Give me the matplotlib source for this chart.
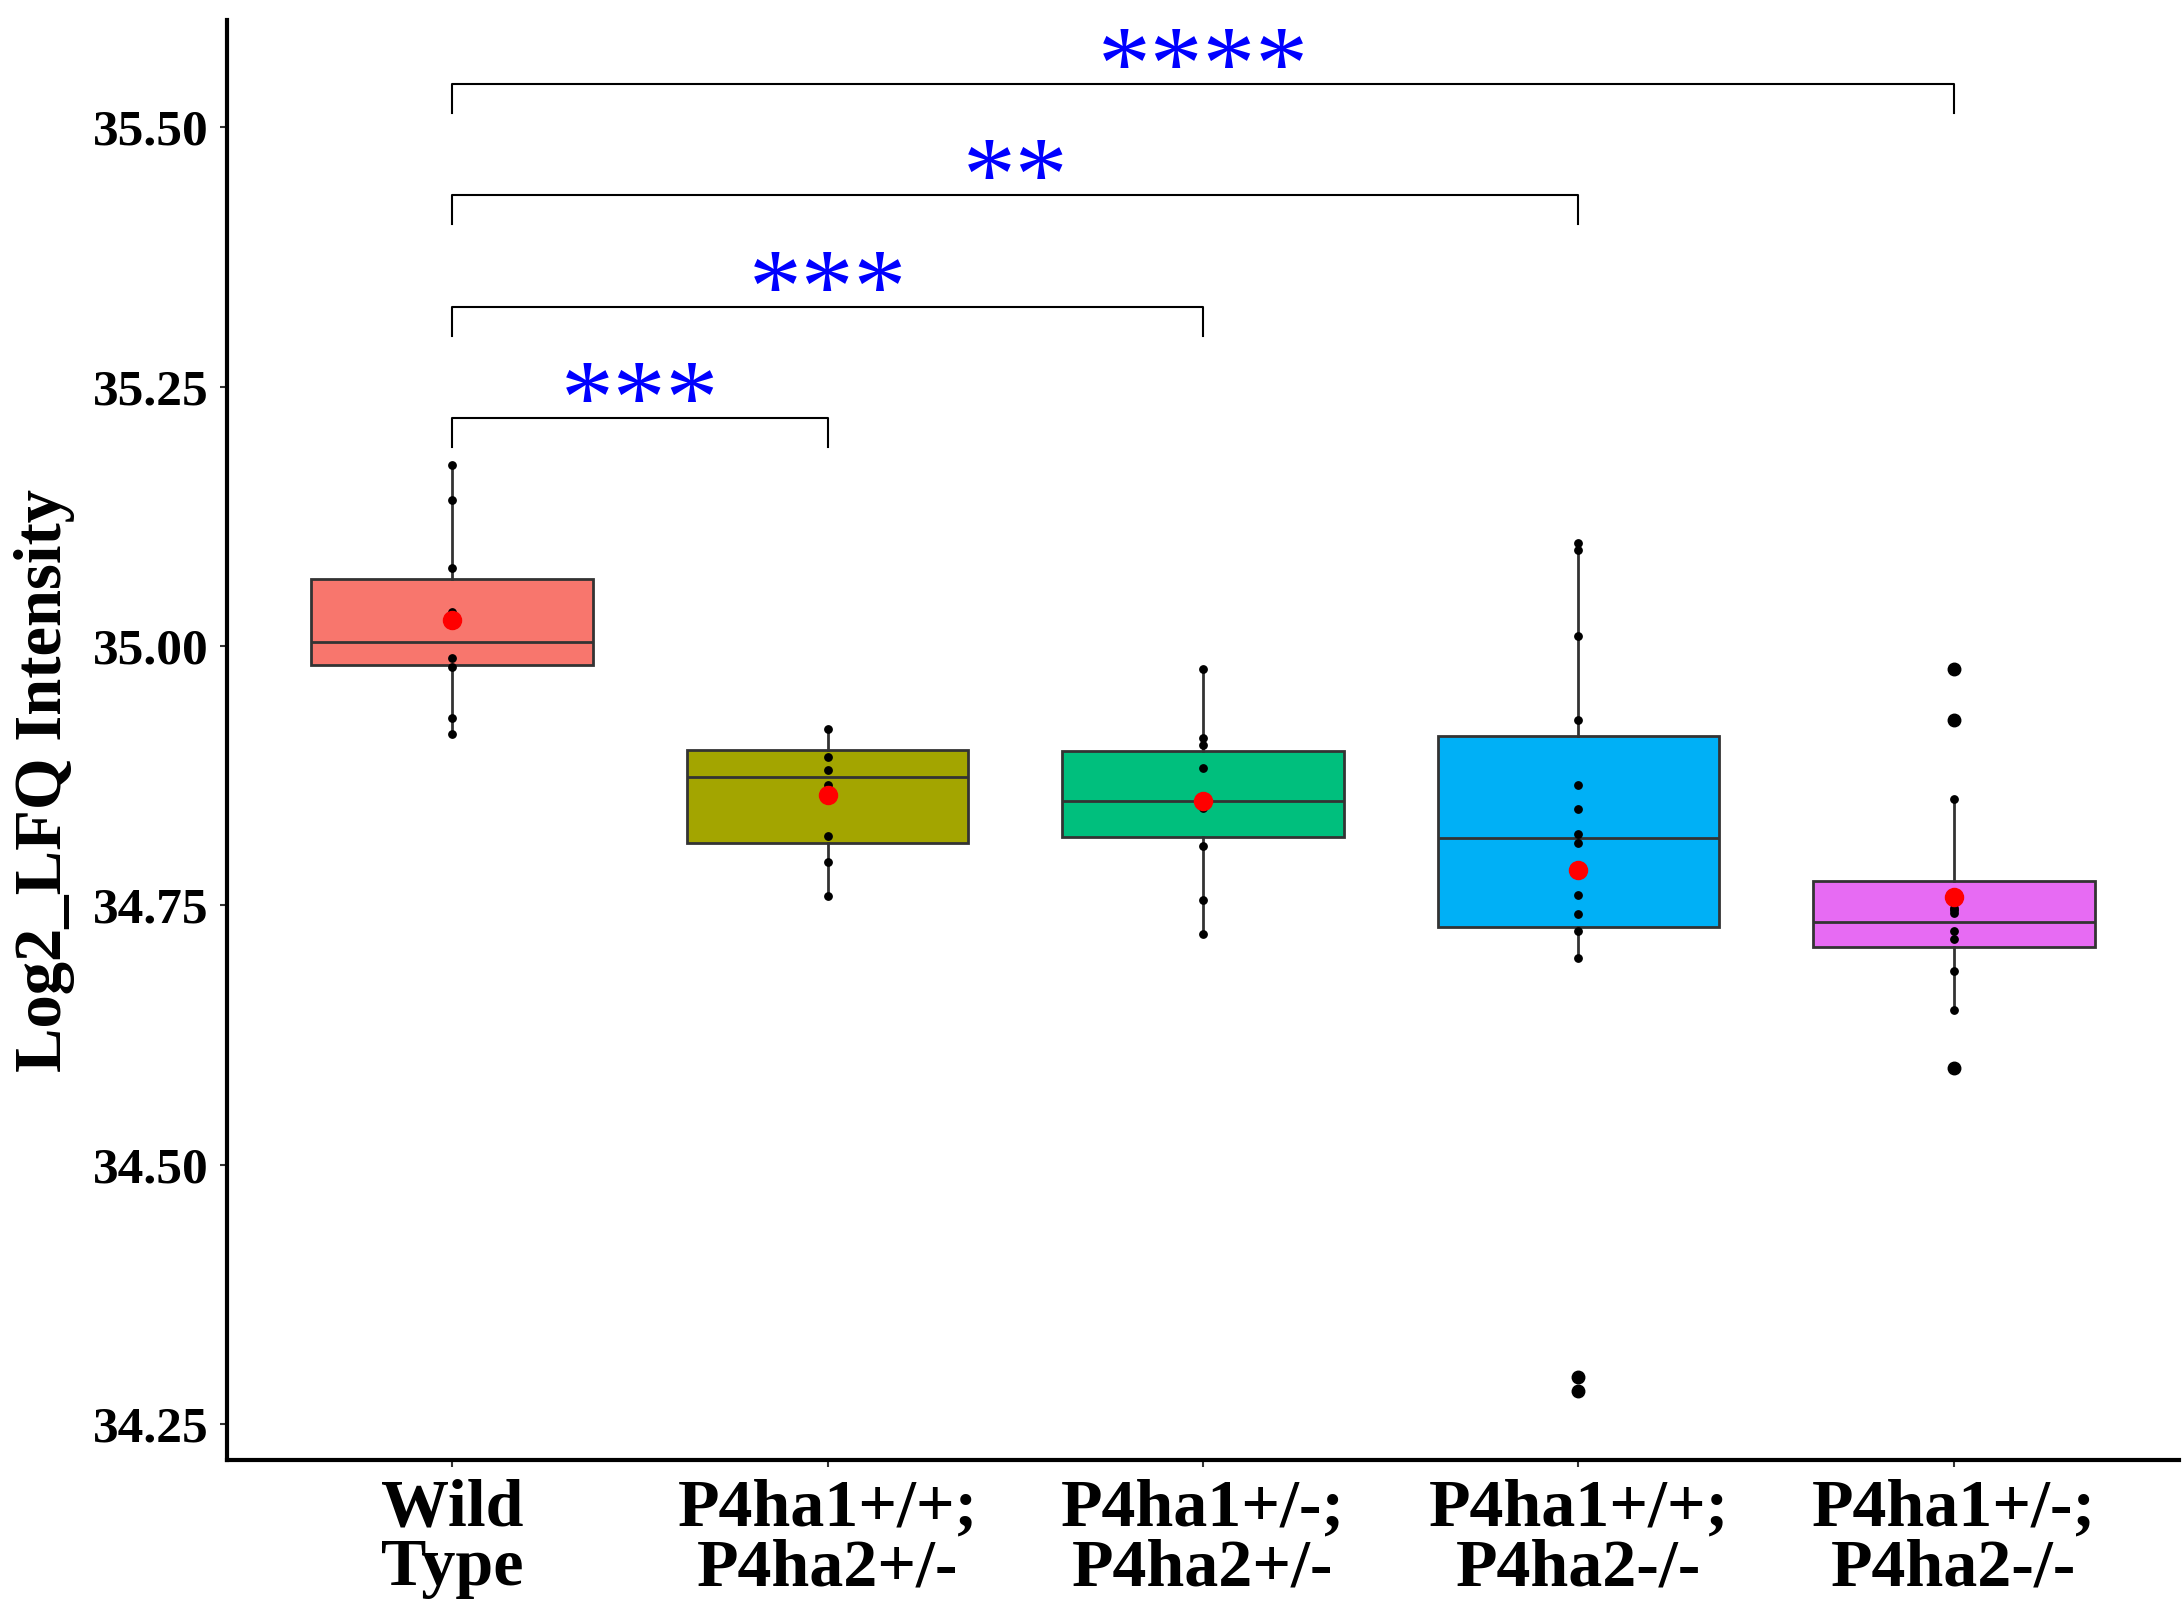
import matplotlib.pyplot as plt

plt.rcParams['font.family'] = ['Liberation Serif', 'DejaVu Serif']
plt.rcParams['font.weight'] = 'bold'

# groups and colours (ggplot default hue palette)
groups = ['Wild\nType', 'P4ha1+/+;\nP4ha2+/-', 'P4ha1+/-;\nP4ha2+/-',
          'P4ha1+/+;\nP4ha2-/-', 'P4ha1+/-;\nP4ha2-/-']
box_colors = ['#F8766D', '#A3A500', '#00BF7D', '#00B0F6', '#E76BF3']

# box statistics
q1 = [34.982, 34.810, 34.816, 34.729, 34.710]
medians = [35.004, 34.874, 34.851, 34.815, 34.734]
q3 = [35.065, 34.900, 34.899, 34.913, 34.774]
whisker_lo = [34.915, 34.759, 34.722, 34.699, 34.649]
whisker_hi = [35.174, 34.920, 34.978, 35.099, 34.853]
means = [35.025, 34.856, 34.851, 34.784, 34.758]
outliers = [[], [], [], [34.296, 34.282], [34.978, 34.929, 34.593]]

# individual samples
samples = [
    [35.174, 35.141, 35.075, 35.033, 35.020, 34.988, 34.980, 34.931, 34.915],
    [34.920, 34.893, 34.881, 34.866, 34.817, 34.792, 34.759],
    [34.978, 34.911, 34.905, 34.882, 34.852, 34.844, 34.807, 34.755, 34.722],
    [35.099, 35.093, 35.010, 34.929, 34.866, 34.843, 34.819, 34.810,
     34.760, 34.742, 34.725, 34.699, 34.296, 34.282],
    [34.978, 34.929, 34.853, 34.748, 34.746, 34.743, 34.725, 34.718,
     34.687, 34.649, 34.593],
]

# significance brackets: (group a, group b, height, label)
comparisons = [(1, 2), (1, 3), (1, 4), (1, 5)]
bracket_y = [35.220, 35.327, 35.435, 35.542]
signif = ['***', '***', '**', '****']

positions = list(range(1, len(groups) + 1))

fig = plt.figure(figsize=(21.83, 15.99), dpi=100)
ax = fig.add_axes([0.104, 0.0869, 0.8942, 0.9009])

stats = []
for i in range(len(groups)):
    stats.append(dict(med=medians[i], q1=q1[i], q3=q3[i],
                      whislo=whisker_lo[i], whishi=whisker_hi[i],
                      fliers=outliers[i]))

bp = ax.bxp(stats, positions=positions, widths=0.75, patch_artist=True,
            showcaps=False, showfliers=True,
            boxprops=dict(edgecolor='#333333', linewidth=2.0),
            medianprops=dict(color='#333333', linewidth=2.0),
            whiskerprops=dict(color='#333333', linewidth=2.0),
            flierprops=dict(marker='o', markerfacecolor='black',
                            markeredgecolor='black', markersize=9))
for patch, col in zip(bp['boxes'], box_colors):
    patch.set_facecolor(col)

for pos, vals in zip(positions, samples):
    ax.plot([pos] * len(vals), vals, 'o', color='black', markersize=5.3,
            zorder=4)

ax.plot(positions, means, 'o', color='red', markersize=13, zorder=5)

tick = 0.028
for (a, b), y, lab in zip(comparisons, bracket_y, signif):
    ax.plot([a, a, b, b], [y - tick, y, y, y - tick], color='black',
            linewidth=1.5)
    ax.text((a + b) / 2, y - 0.015, lab, ha='center', va='baseline',
            color='blue', fontsize=76, fontweight='normal')

ax.set_xlim(0.4, 5.6)
ax.set_ylim(34.2155, 35.6038)
ax.set_xticks(positions)
ax.set_xticklabels(groups, fontsize=49, linespacing=0.98)
ax.set_yticks([34.25, 34.50, 34.75, 35.00, 35.25, 35.50])
ax.set_yticklabels(['34.25', '34.50', '34.75', '35.00', '35.25', '35.50'],
                   fontsize=37)
ax.tick_params(axis='both', length=5, width=1.5, color='#333333')
ax.tick_params(axis='x', pad=8)
ax.tick_params(axis='y', pad=8)

ax.set_ylabel('Log2_LFQ Intensity', fontsize=48, fontweight='bold',
              va='center')
ax.yaxis.set_label_coords(-0.0935, 0.472)

for side in ['top', 'right']:
    ax.spines[side].set_visible(False)
for side in ['left', 'bottom']:
    ax.spines[side].set_linewidth(3)
    ax.spines[side].set_color('black')

fig.savefig('out.png', dpi=100)
